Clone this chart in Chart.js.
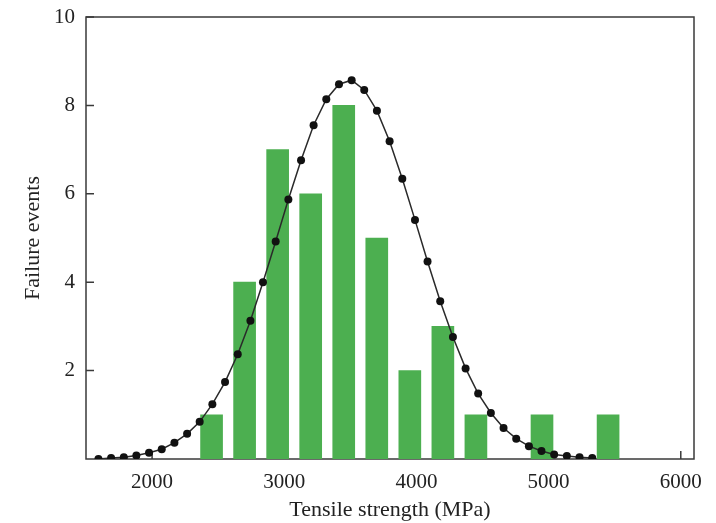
<!DOCTYPE html>
<html>
<head>
<meta charset="utf-8">
<title>Tensile strength</title>
<script src="https://cdn.jsdelivr.net/npm/chart.js"></script>
<style>
  html, body { margin: 0; padding: 0; background: #fff; }
  #wrap { width: 716px; height: 523px; }
</style>
</head>
<body>
<div id="wrap"><canvas id="grafica"></canvas></div>
<script>
// histograma: centro de clase (MPa) y número de fallos
const binCenters = [2450, 2700, 2950, 3200, 3450, 3700, 3950, 4200, 4450, 4950, 5450];
const binCounts  = [1, 4, 7, 6, 8, 5, 2, 3, 1, 1, 1];

// curva ajustada, leída punto a punto
const curveX = [1594, 1690, 1786, 1881, 1977, 2073, 2169, 2265, 2360, 2456,
                2552, 2648, 2744, 2839, 2935, 3031, 3127, 3222, 3318, 3414,
                3510, 3605, 3701, 3797, 3893, 3989, 4084, 4180, 4276, 4372,
                4467, 4563, 4659, 4755, 4851, 4946, 5042, 5138, 5234, 5330];
const curveY = [0.00, 0.02, 0.04, 0.08, 0.14, 0.22, 0.37, 0.57, 0.84, 1.24,
                1.74, 2.37, 3.13, 4.00, 4.92, 5.87, 6.76, 7.55, 8.14, 8.48,
                8.57, 8.35, 7.88, 7.19, 6.34, 5.41, 4.47, 3.57, 2.76, 2.05,
                1.48, 1.04, 0.70, 0.46, 0.29, 0.18, 0.10, 0.07, 0.04, 0.02];

const xTicks = [2000, 3000, 4000, 5000, 6000];
const yTicks = [2, 4, 6, 8, 10];

const serif = 'Liberation Serif';

// marco y marcas hacia dentro
const marco = {
  id: 'marco',
  beforeDatasetsDraw(chart) {
    const { ctx, chartArea: a, scales } = chart;
    ctx.save();
    ctx.strokeStyle = '#3a3a3a';
    ctx.lineWidth = 1.5;
    ctx.strokeRect(a.left, a.top, a.right - a.left, a.bottom - a.top);
    ctx.beginPath();
    xTicks.forEach(v => {
      const px = scales.x.getPixelForValue(v);
      ctx.moveTo(px, a.bottom);
      ctx.lineTo(px, a.bottom - 8);
    });
    yTicks.forEach(v => {
      const py = scales.y.getPixelForValue(v);
      ctx.moveTo(a.left, py);
      ctx.lineTo(a.left + 8, py);
    });
    ctx.stroke();
    ctx.restore();
  }
};

new Chart(document.getElementById('grafica'), {
  type: 'bar',
  data: {
    datasets: [{
      type: 'line',
      data: curveX.map((x, i) => ({ x: x, y: curveY[i] })),
      borderColor: '#2a2a2a',
      borderWidth: 1.5,
      pointRadius: 4,
      pointBackgroundColor: '#111',
      pointBorderWidth: 0,
      tension: 0,
      order: 0
    }, {
      data: binCenters.map((x, i) => ({ x: x, y: binCounts[i] })),
      backgroundColor: '#4caf50',
      borderWidth: 0,
      barThickness: 22,
      order: 1
    }]
  },
  options: {
    responsive: true,
    maintainAspectRatio: false,
    animation: false,
    layout: { padding: { top: 17, right: 22, left: 0, bottom: 0 } },
    plugins: { legend: { display: false }, tooltip: { enabled: false } },
    scales: {
      x: {
        type: 'linear',
        min: 1500,
        max: 6100,
        offset: false,
        grid: { display: false, drawTicks: false, offset: false },
        border: { display: false },
        afterBuildTicks: s => { s.ticks = xTicks.map(v => ({ value: v })); },
        afterFit: s => { s.height = 64; s.paddingLeft = 0; s.paddingRight = 0; },
        ticks: {
          padding: 11,
          color: '#222',
          font: { family: serif, size: 21 },
          callback: v => String(v)
        },
        title: {
          display: true,
          text: 'Tensile strength (MPa)',
          color: '#222',
          font: { family: serif, size: 22 },
          padding: { top: 0, bottom: 0 }
        }
      },
      y: {
        min: 0,
        max: 10,
        grid: { display: false, drawTicks: false },
        border: { display: false },
        afterBuildTicks: s => { s.ticks = yTicks.map(v => ({ value: v })); },
        afterFit: s => { s.width = 86; s.paddingTop = 0; s.paddingBottom = 0; },
        ticks: {
          padding: 11,
          color: '#222',
          font: { family: serif, size: 21 },
          callback: v => String(v)
        },
        title: {
          display: true,
          text: 'Failure events',
          color: '#222',
          font: { family: serif, size: 22 },
          padding: { top: 20, bottom: 0 }
        }
      }
    }
  },
  plugins: [marco]
});
</script>
</body>
</html>
